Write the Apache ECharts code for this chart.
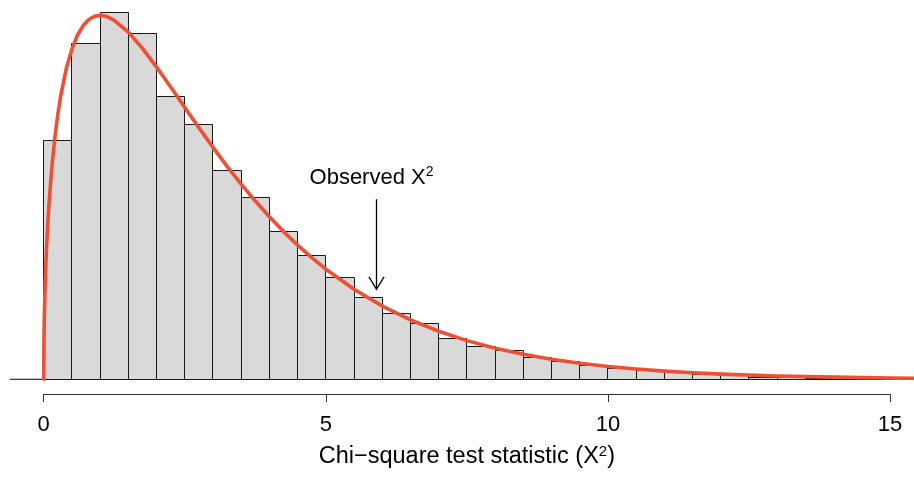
<!DOCTYPE html>
<html>
<head>
<meta charset="utf-8">
<script src="https://cdn.jsdelivr.net/npm/echarts@6/dist/echarts.min.js"></script>
<style>
html,body{margin:0;padding:0;background:#fff;}
#chart{width:914px;height:477px;}
</style>
</head>
<body>
<div id="chart"></div>
<script>
// Histogram bins (width 0.5) and their heights (density)
var binStarts = [0,0.5,1,1.5,2,2.5,3,3.5,4,4.5,5,5.5,6,6.5,7,7.5,8,8.5,9,9.5,10,10.5,11,11.5,12,12.5,13,13.5,14,14.5];
var binWidth = 0.5;
var binHeights = [0.159,0.223,0.244,0.2296,0.1877,0.1697,0.139,0.121,0.098,0.0826,
                  0.0676,0.0543,0.0434,0.037,0.0273,0.0217,0.0188,0.0144,0.0117,0.0092,
                  0.0070,0.0060,0.0047,0.0033,0.0023,0.0013,0.0009,0.0005,0.0003,0.0002];

// Density curve
var curveX = [0,0.005,0.01,0.02,0.035,0.05,0.075,0.1,0.15,0.2,0.25,0.3,0.4,0.5,0.6,0.7,0.8,0.9,1.0,1.1,1.25,1.5,1.75,
              2.0,2.25,2.5,2.75,3.0,3.25,3.5,3.75,4.0,4.25,4.5,4.75,5.0,5.5,6.0,6.5,7.0,7.5,8.0,8.5,9.0,9.5,
              10,10.5,11,11.5,12,13,14,15,15.425];
var curveY = [0,0.0281,0.0397,0.0559,0.0733,0.0870,0.1052,0.1200,0.1433,0.1614,0.1760,0.1881,0.2066,0.2197,0.2289,0.2352,0.2392,0.2413,0.2420,0.2414,0.2387,0.2308,0.2200,
              0.2076,0.1943,0.1807,0.1673,0.1542,0.1416,0.1297,0.1185,0.1080,0.0982,0.0892,0.0809,0.0732,0.0598,0.0487,0.0395,0.0319,0.0257,0.0206,0.0166,0.0133,0.0106,
              0.0085,0.0068,0.0054,0.0043,0.0034,0.0022,0.0014,0.00085,0.0007];

// Annotation
var observedX = 5.89;
var arrowTop = 0.1197;
var arrowTip = 0.0598;
var labelX = 5.81;
var labelY = 0.1342;
var labelText = 'Observed X{sup|2}';

// Axis
var xTicks = [0, 5, 10, 15];
var xAxisTitle = 'Chi\u2212square test statistic (X{sup|2})';
var xRange = [-0.6, 15.425];
var yRange = [-0.0098, 0.2522];

var FONT = '"Liberation Sans", Arial, Helvetica, sans-serif';

var histData = binStarts.map(function (s, i) { return [s, s + binWidth, binHeights[i]]; });
var curveData = curveX.map(function (x, i) { return [x, curveY[i]]; });

var chart = echarts.init(document.getElementById('chart'), null, {renderer: 'canvas'});

function crisp(v) { return Math.round(v - 0.5) + 0.5; }

chart.setOption({
  animation: false,
  backgroundColor: '#ffffff',
  grid: [
    {left: 9.85, right: 0, top: 0, bottom: 83, containLabel: false},
    {left: 43.7, right: 24, top: 0, bottom: 83, containLabel: false}
  ],
  xAxis: [
    {
      gridIndex: 0, type: 'value', min: xRange[0], max: xRange[1], show: false,
      splitLine: {show: false}
    },
    {
      gridIndex: 1, type: 'value', min: xTicks[0], max: xTicks[xTicks.length - 1], interval: 5,
      splitLine: {show: false},
      axisLine: {show: true, onZero: false, lineStyle: {color: '#333', width: 1}},
      axisTick: {show: true, inside: false, length: 8, lineStyle: {color: '#333', width: 1}},
      axisLabel: {
        fontSize: 22, color: '#000', fontFamily: FONT, margin: 20,
        formatter: function (v) { return xTicks.indexOf(v) >= 0 ? String(v) : ''; }
      },
      name: xAxisTitle, nameLocation: 'middle', nameGap: 50,
      nameTextStyle: {
        fontSize: 23.5, color: '#000', fontFamily: FONT, lineHeight: 26,
        rich: {sup: {fontSize: 15, fontFamily: FONT, color: '#000', verticalAlign: 'top', lineHeight: 15}}
      }
    }
  ],
  yAxis: [
    {gridIndex: 0, type: 'value', min: yRange[0], max: yRange[1], show: false, splitLine: {show: false}},
    {gridIndex: 1, type: 'value', min: 0, max: 1, show: false, splitLine: {show: false}}
  ],
  series: [
    {
      type: 'line', name: 'baseline', xAxisIndex: 0, yAxisIndex: 0, silent: true,
      data: [[xRange[0], 0], [xRange[1], 0]],
      showSymbol: false, symbol: 'none',
      lineStyle: {color: '#000', width: 1}, z: 1
    },
    {
      type: 'custom', name: 'hist', xAxisIndex: 0, yAxisIndex: 0, z: 2,
      data: histData,
      renderItem: function (params, api) {
        var p0 = api.coord([api.value(0), api.value(2)]);
        var p1 = api.coord([api.value(1), 0]);
        var x0 = crisp(p0[0]), x1 = crisp(p1[0]);
        var y0 = crisp(p0[1]), y1 = crisp(p1[1]);
        return {
          type: 'rect',
          shape: {x: x0, y: y0, width: x1 - x0, height: y1 - y0},
          style: {fill: '#D9D9D9', stroke: '#1a1a1a', lineWidth: 1}
        };
      },
      encode: {x: [0, 1], y: 2}
    },
    {
      type: 'line', name: 'density', xAxisIndex: 0, yAxisIndex: 0, z: 3,
      data: curveData, showSymbol: false, symbol: 'none',
      smooth: false,
      lineStyle: {color: '#EF4F33', width: 3.6, join: 'round', cap: 'round'}
    },
    {
      type: 'custom', name: 'annotation', xAxisIndex: 0, yAxisIndex: 0, clip: false, z: 4,
      data: [[observedX, arrowTop, arrowTip, labelX, labelY]],
      renderItem: function (params, api) {
        var top = api.coord([api.value(0), api.value(1)]);
        var tip = api.coord([api.value(0), api.value(2)]);
        var lab = api.coord([api.value(3), api.value(4)]);
        var x = crisp(top[0]);
        return {
          type: 'group',
          children: [
            {type: 'line', shape: {x1: x, y1: top[1], x2: x, y2: tip[1]},
             style: {stroke: '#000', lineWidth: 1.3}},
            {type: 'polyline', shape: {points: [[x - 7.5, tip[1] - 12.5], [x, tip[1]], [x + 7.5, tip[1] - 12.5]]},
             style: {stroke: '#000', lineWidth: 1.3, fill: null}},
            {type: 'text', x: lab[0], y: lab[1],
             style: {text: labelText, fontSize: 22, fontFamily: FONT, fill: '#000', lineHeight: 24,
                     align: 'center', verticalAlign: 'middle',
                     rich: {sup: {fontSize: 14, fontFamily: FONT, fill: '#000', verticalAlign: 'top', lineHeight: 14}}}}
          ]
        };
      },
      encode: {x: 0, y: 1}
    }
  ]
});
</script>
</body>
</html>
